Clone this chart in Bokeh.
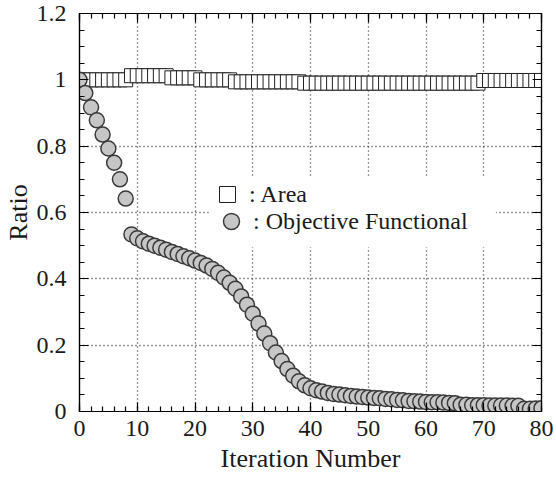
from bokeh.plotting import figure
from bokeh.models import Range1d, FixedTicker, LinearAxis, Legend, LegendItem, BoxAnnotation
from bokeh.embed import file_html
from bokeh.resources import INLINE

# ---- data ----
iterations = list(range(81))

area = ([1.0] * 9 + [1.0125] * 7 + [1.006] * 5 + [1.0] * 6 +
        [0.994] * 12 + [0.99] * 31 + [0.998] * 11)

objective = [
    1.0, 0.96, 0.917, 0.878, 0.835, 0.793, 0.75, 0.70, 0.642, 0.534,
    0.522, 0.513, 0.506, 0.500, 0.494, 0.488, 0.481, 0.475, 0.468, 0.462,
    0.455, 0.448, 0.440, 0.430, 0.418, 0.404, 0.388, 0.370, 0.347, 0.322,
    0.295, 0.265, 0.235, 0.206, 0.178, 0.152, 0.128, 0.108, 0.091, 0.079,
    0.070, 0.064, 0.060, 0.056, 0.053, 0.051, 0.049, 0.047, 0.045, 0.044,
    0.042, 0.041, 0.040, 0.038, 0.037, 0.035, 0.034, 0.032, 0.031, 0.030,
    0.029, 0.028, 0.028, 0.027, 0.026, 0.025, 0.020, 0.020, 0.019, 0.019,
    0.019, 0.018, 0.018, 0.018, 0.018, 0.017, 0.017, 0.008, 0.008, 0.009,
    0.010,
]

x_major = [0, 10, 20, 30, 40, 50, 60, 70, 80]
x_minor = list(range(0, 81, 2))
y_major = [0, 0.2, 0.4, 0.6, 0.8, 1, 1.2]
y_labels = ["0", "0.2", "0.4", "0.6", "0.8", "1", "1.2"]
y_minor = [i * 0.05 for i in range(25)]

series_names = [": Area", ": Objective Functional"]

FONT = "Liberation Serif"
TXT = "#1a1a1a"

p = figure(width=556, height=488, output_backend="svg", toolbar_location=None,
           x_range=Range1d(0, 80), y_range=Range1d(0, 1.2),
           min_border_left=77, min_border_right=15, min_border_top=13,
           min_border_bottom=77)
p.background_fill_color = "white"
p.border_fill_color = "white"
p.outline_line_color = "black"
p.outline_line_width = 1.2

xt = FixedTicker(ticks=x_major, minor_ticks=x_minor)
yt = FixedTicker(ticks=y_major, minor_ticks=y_minor)

def style_axis(ax, ticker, show_labels=True):
    ax.ticker = ticker
    ax.axis_line_color = "black"
    ax.axis_line_width = 1.2
    ax.major_tick_in = 9
    ax.major_tick_out = 0
    ax.minor_tick_in = 5
    ax.minor_tick_out = 0
    ax.major_tick_line_color = "black"
    ax.minor_tick_line_color = "black"
    ax.major_tick_line_width = 1.2
    ax.minor_tick_line_width = 1.2
    ax.major_label_text_font = FONT
    ax.major_label_text_color = TXT
    if not show_labels:
        ax.major_label_text_font_size = "0px"
        ax.major_label_standoff = 0
        ax.major_label_text_alpha = 0

xa = p.xaxis[0]
ya = p.yaxis[0]
style_axis(xa, xt)
style_axis(ya, yt)
xa.major_label_text_font_size = "24px"
ya.major_label_text_font_size = "24px"
xa.major_label_standoff = 9
ya.major_label_standoff = 13
ya.major_label_overrides = {v: s for v, s in zip(y_major, y_labels)}
xa.axis_label = "Iteration Number"
ya.axis_label = "Ratio"
for ax in (xa, ya):
    ax.axis_label_text_font = FONT
    ax.axis_label_text_font_size = "26px"
    ax.axis_label_text_font_style = "normal"
    ax.axis_label_text_color = TXT
xa.axis_label_standoff = 5
ya.axis_label_standoff = 1

top = LinearAxis()
right = LinearAxis()
style_axis(top, xt, show_labels=False)
style_axis(right, yt, show_labels=False)
p.add_layout(top, "above")
p.add_layout(right, "right")

p.xgrid.ticker = xt
p.ygrid.ticker = yt
for g in (p.xgrid, p.ygrid):
    g.grid_line_color = "#333333"
    g.grid_line_dash = "1 3"
    g.grid_line_width = 1.3

# white area behind the legend (hides the grid there)
p.add_layout(BoxAnnotation(left=22.4, right=72.1, bottom=0.495, top=0.706,
                           fill_color="white", fill_alpha=1.0,
                           line_color=None, level="underlay"))

r_area = p.scatter(iterations, area, marker="square", size=14,
                   fill_color="white", line_color="#222222", line_width=1)
r_obj = p.scatter(iterations, objective, marker="circle", size=15,
                  fill_color="#c6c6c6", line_color="#3a3a3a", line_width=1.5)

def make_legend(label, renderer, loc):
    lg = Legend(items=[LegendItem(label=label, renderers=[renderer])],
                location=loc, orientation="vertical",
                glyph_width=40, glyph_height=40, label_standoff=2,
                padding=0, margin=0, spacing=0,
                border_line_color=None, background_fill_alpha=0,
                label_text_font=FONT, label_text_font_size="24px",
                label_text_color=TXT)
    p.add_layout(lg, "center")

make_legend(series_names[0], r_area, (128, 197))
make_legend(series_names[1], r_obj, (132, 170))

open("out.html", "w").write(file_html(p, INLINE))
